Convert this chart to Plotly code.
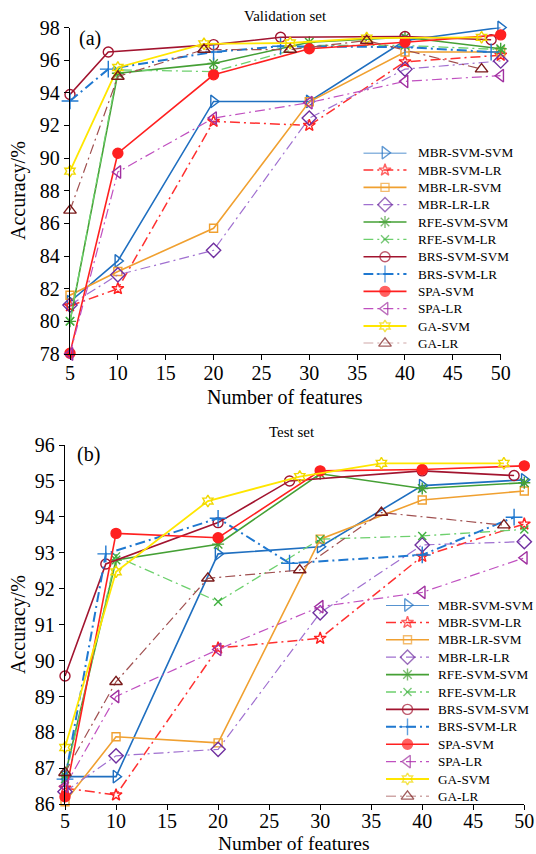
import plotly.graph_objects as go

# ---------------- data ----------------
series_names = ["MBR-SVM-SVM", "MBR-SVM-LR", "MBR-LR-SVM", "MBR-LR-LR",
                "RFE-SVM-SVM", "RFE-SVM-LR", "BRS-SVM-SVM", "BRS-SVM-LR",
                "SPA-SVM", "SPA-LR", "GA-SVM", "GA-LR"]

x_std = [5, 10, 20, 30, 40, 50]
x_brs = [5, 9, 20, 27, 40, 49]
x_ga = [5, 10, 19, 28, 36, 48]

# Validation set accuracy (%)
val_mbr_svm_svm = [81.2, 83.7, 93.47, 93.47, 97.2, 98.0]
val_mbr_svm_lr = [80.95, 82.0, 92.25, 92.0, 95.9, 96.3]
val_mbr_lr_svm = [81.6, 83.05, 85.7, 93.45, 96.5, 96.5]
val_mbr_lr_lr = [81.0, 82.85, 84.35, 92.45, 95.45, 95.95]
val_rfe_svm_svm = [80.0, 95.2, 95.8, 97.1, 97.4, 96.7]
val_rfe_svm_lr = [80.0, 95.4, 95.3, 96.9, 96.9, 96.65]
val_brs_svm_svm = [93.9, 96.5, 96.95, 97.4, 97.45, 97.25]
val_brs_svm_lr = [93.5, 95.45, 96.5, 96.85, 96.8, 96.5]
val_spa_svm = [78.05, 90.3, 95.1, 96.7, 97.1, 97.55]
val_spa_lr = [78.0, 89.15, 92.45, 93.4, 94.7, 95.05]
val_ga_svm = [89.2, 95.55, 97.0, 97.05, 97.35, 97.4]
val_ga_lr = [86.8, 95.0, 96.65, 96.65, 97.2, 95.45]

# Test set accuracy (%)
test_mbr_svm_svm = [86.77, 86.77, 92.97, 93.17, 94.87, 95.03]
test_mbr_svm_lr = [86.45, 86.26, 90.35, 90.62, 92.9, 93.8]
test_mbr_lr_svm = [86.07, 87.88, 87.71, 93.38, 94.47, 94.72]
test_mbr_lr_lr = [86.35, 87.35, 87.53, 91.33, 93.22, 93.31]
test_rfe_svm_svm = [86.8, 92.8, 93.24, 95.2, 94.79, 94.95]
test_rfe_svm_lr = [86.7, 92.9, 91.64, 93.38, 93.47, 93.65]
test_brs_svm_svm = [89.57, 92.69, 93.84, 95.0, 95.28, 95.15]
test_brs_svm_lr = [86.7, 92.97, 93.96, 92.71, 92.94, 93.99]
test_spa_svm = [86.21, 93.54, 93.42, 95.28, 95.32, 95.42]
test_spa_lr = [86.5, 89.0, 90.31, 91.5, 91.9, 92.86]
test_ga_svm = [87.58, 92.47, 94.44, 95.12, 95.49, 95.49]
test_ga_lr = [86.88, 89.41, 92.29, 92.52, 94.12, 93.77]

y_ticks_val = [78, 80, 82, 84, 86, 88, 90, 92, 94, 96, 98]
y_ticks_test = [86, 87, 88, 89, 90, 91, 92, 93, 94, 95, 96]
x_ticks = [5, 10, 15, 20, 25, 30, 35, 40, 45, 50]

xs = [x_std, x_std, x_std, x_std, x_std, x_std, x_brs, x_brs, x_std, x_std, x_ga, x_ga]
val_all = [val_mbr_svm_svm, val_mbr_svm_lr, val_mbr_lr_svm, val_mbr_lr_lr,
           val_rfe_svm_svm, val_rfe_svm_lr, val_brs_svm_svm, val_brs_svm_lr,
           val_spa_svm, val_spa_lr, val_ga_svm, val_ga_lr]
test_all = [test_mbr_svm_svm, test_mbr_svm_lr, test_mbr_lr_svm, test_mbr_lr_lr,
            test_rfe_svm_svm, test_rfe_svm_lr, test_brs_svm_svm, test_brs_svm_lr,
            test_spa_svm, test_spa_lr, test_ga_svm, test_ga_lr]

# ---------------- styles ----------------
DD = "10px,4px,2px,4px"
styles = [
    dict(lc="#1f6fc0", mc="#1f6fc0", dash="solid", lw=1.6, sym="triangle-right-open", ms=11),
    dict(lc="#ff3030", mc="#ff2020", dash=DD, lw=1.5, sym="star-open", ms=9),
    dict(lc="#f0a030", mc="#f0a030", dash="solid", lw=1.6, sym="square-open", ms=8),
    dict(lc="#a070d0", mc="#7030a0", dash=DD, lw=1.2, sym="diamond-open", ms=11),
    dict(lc="#45a035", mc="#45a035", dash="solid", lw=1.6, sym="asterisk-open", ms=10),
    dict(lc="#6dd06d", mc="#40b040", dash=DD, lw=1.3, sym="x-thin-open", ms=8),
    dict(lc="#a2142f", mc="#a2142f", dash="solid", lw=1.6, sym="circle-open", ms=10),
    dict(lc="#1f78d0", mc="#1f78d0", dash=DD, lw=2.0, sym="cross-thin-open", ms=12),
    dict(lc="#ff2020", mc="#ff2020", dash="solid", lw=1.6, sym="circle", ms=10),
    dict(lc="#c050c0", mc="#a030a0", dash=DD, lw=1.2, sym="triangle-left-open", ms=11),
    dict(lc="#ffe600", mc="#f0d800", dash="solid", lw=1.8, sym="hexagram-open", ms=9),
    dict(lc="#a05050", mc="#7a1a1a", dash=DD, lw=1.2, sym="triangle-up-open", ms=11),
]

FONT = "Liberation Serif"
W, H = 536, 854


def px_x(p):
    return p / W


def px_y(p):
    return 1 - p / H


# legend boxes (pixel geometry): sample line start/end, text start, first row, row step
legend_boxes = [
    dict(x0=363.3, x1=406.7, tx=415.5, y0=152.7, dy=17.33, xa="x3", ya="y3"),
    dict(x0=386.0, x1=429.0, tx=435.5, y0=605.0, dy=17.4, xa="x4", ya="y4"),
]
n = len(series_names)

fig = go.Figure()
for i, name in enumerate(series_names):
    s = styles[i]
    line = dict(color=s["lc"], width=s["lw"], dash=s["dash"])
    marker = dict(symbol=s["sym"], size=s["ms"], color=s["mc"],
                  line=dict(color=s["mc"], width=1.4))
    for data, xa, ya in ((val_all[i], "x", "y"), (test_all[i], "x2", "y2")):
        fig.add_trace(go.Scatter(
            x=xs[i], y=data, name=name, mode="lines+markers",
            xaxis=xa, yaxis=ya, cliponaxis=False, showlegend=False,
            line=line, marker=marker,
        ))
    # legend key glyphs (row i of each legend box)
    for lb in legend_boxes:
        fig.add_trace(go.Scatter(
            x=[0, 0.5, 1], y=[i, i, i], mode="lines+markers",
            xaxis=lb["xa"], yaxis=lb["ya"], cliponaxis=False, showlegend=False,
            hoverinfo="skip", line=line,
            marker=dict(symbol=s["sym"], size=[0, s["ms"], 0], color=s["mc"],
                        line=dict(color=s["mc"], width=1.4)),
        ))
        fig.add_annotation(text=name, x=px_x(lb["tx"]), y=px_y(lb["y0"] + lb["dy"] * i),
                           xref="paper", yref="paper", xanchor="left", yanchor="middle",
                           showarrow=False,
                           font=dict(family=FONT, size=13.2, color="black"))

axis_common = dict(showgrid=False, zeroline=False, showline=True, linecolor="black",
                   linewidth=1.3, ticks="outside", ticklen=5, tickwidth=1.2,
                   tickcolor="black", automargin=False,
                   tickfont=dict(family=FONT, size=20, color="black"))
hidden = dict(visible=False, showgrid=False, zeroline=False, fixedrange=True)

lb0, lb1 = legend_boxes
fig.update_layout(
    width=W, height=H, margin=dict(l=0, r=0, t=0, b=0),
    paper_bgcolor="white", plot_bgcolor="rgba(0,0,0,0)",
    font=dict(family=FONT, color="black"),
    showlegend=False,
    xaxis=dict(domain=[px_x(70), px_x(500.7)], range=[5, 50], tickvals=x_ticks,
               anchor="y", ticklabelstandoff=-4, **axis_common),
    yaxis=dict(domain=[px_y(354), px_y(27.5)], range=[78, 98], tickvals=y_ticks_val,
               anchor="x", **axis_common),
    xaxis2=dict(domain=[px_x(65), px_x(524.3)], range=[5, 50], tickvals=x_ticks,
                anchor="y2", ticklabelstandoff=-6, **axis_common),
    yaxis2=dict(domain=[px_y(804.3), px_y(445)], range=[86, 96], tickvals=y_ticks_test,
                anchor="x2", **axis_common),
    xaxis3=dict(domain=[px_x(lb0["x0"]), px_x(lb0["x1"])], range=[0, 1], anchor="y3", **hidden),
    yaxis3=dict(domain=[px_y(lb0["y0"] + lb0["dy"] * (n - 1)), px_y(lb0["y0"])],
                range=[n - 1, 0], anchor="x3", **hidden),
    xaxis4=dict(domain=[px_x(lb1["x0"]), px_x(lb1["x1"])], range=[0, 1], anchor="y4", **hidden),
    yaxis4=dict(domain=[px_y(lb1["y0"] + lb1["dy"] * (n - 1)), px_y(lb1["y0"])],
                range=[n - 1, 0], anchor="x4", **hidden),
)

annotations = [
    dict(text="Validation set", x=px_x(285), y=px_y(16), size=15, angle=0),
    dict(text="Test set", x=px_x(292), y=px_y(432), size=15, angle=0),
    dict(text="(a)", x=px_x(90), y=px_y(38), size=20, angle=0),
    dict(text="(b)", x=px_x(88), y=px_y(454), size=20, angle=0),
    dict(text="Accuracy/%", x=px_x(18), y=px_y(191), size=20, angle=-90),
    dict(text="Accuracy/%", x=px_x(18), y=px_y(625), size=20, angle=-90),
    dict(text="Number of features", x=px_x(285), y=px_y(397), size=20, angle=0),
    dict(text="Number of features", x=px_x(294), y=px_y(843), size=19.5, angle=0),
]
for a in annotations:
    fig.add_annotation(text=a["text"], x=a["x"], y=a["y"], xref="paper", yref="paper",
                       xanchor="center", yanchor="middle", showarrow=False,
                       textangle=a["angle"],
                       font=dict(family=FONT, size=a["size"], color="black"))

fig.write_html("out.html")
